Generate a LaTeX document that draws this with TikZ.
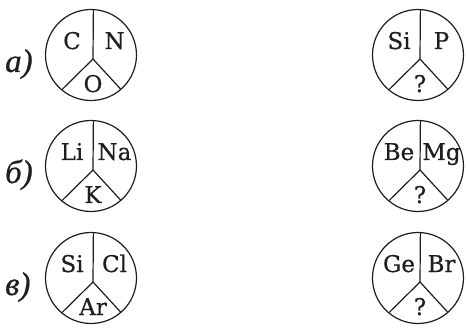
\documentclass[tikz,border=0pt]{standalone}
\usepackage{fontspec}
\newfontfamily\elfont[FakeBold=0.5]{DejaVu Serif}
\newfontfamily\labfont[FakeBold=0.5]{Liberation Serif}
\definecolor{ink}{HTML}{1E1E1E}
\newcommand\elemcircle[6]{%
  \node[disc] (#1) at (#2,#3) {};
  \coordinate (#1j) at ([shift={(2,-4)}]#1.center);
  \draw[divider] (#1.87) -- (#1j) -- (#1.230);
  \draw[divider] (#1j) -- (#1.311);
  \node[elem,anchor=base] (#1l) at ([shift={(-19,6)}]#1.center) {#4};
  \node[elem,anchor=base] (#1r) at ([shift={(23.5,6)}]#1.center) {#5};
  \node[elem,anchor=base] (#1b) at ([shift={(2,-37)}]#1.center) {#6};
}
\begin{document}
\begin{tikzpicture}[x=1pt,y=1pt,
  disc/.style={circle,draw=ink,line width=1.2pt,minimum size=91pt,inner sep=0pt,outer sep=0pt},
  divider/.style={draw=ink,line width=1.2pt},
  elem/.style={font=\elfont\fontsize{23}{23}\selectfont,text=ink,inner sep=0pt},
  lab/.style={font=\labfont\itshape\fontsize{33}{33}\selectfont,text=ink,inner sep=0pt,anchor=base west}]
\useasboundingbox (0,0) rectangle (466,327);
\fill[white] (0,0) rectangle (466,327);
\elemcircle{a1}{91}{272}{C}{N}{O}
\elemcircle{a2}{418}{272}{Si}{P}{?}
\elemcircle{b1}{91}{161}{Li}{Na}{K}
\elemcircle{b2}{418}{161}{Be}{Mg}{?}
\elemcircle{c1}{91}{49}{Si}{Cl}{Ar}
\elemcircle{c2}{418}{49}{Ge}{Br}{?}
\node[lab] (la) at (5,255) {а)};
\node[lab] (lb) at (5,144) {б)};
\node[lab] (lc) at (5,32) {в)};
\end{tikzpicture}
\end{document}
